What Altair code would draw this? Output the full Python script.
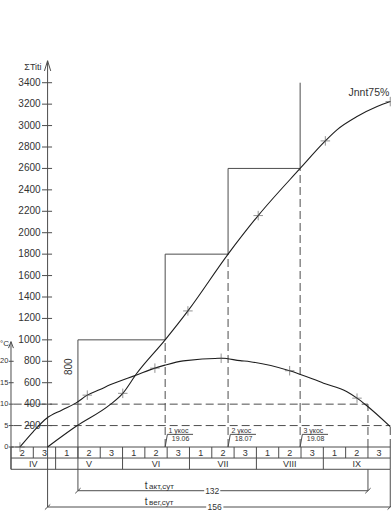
import altair as alt
import pandas as pd

# ---------------- values ----------------
DECADES = ["2", "3"] + ["1", "2", "3"] * 5
MONTHS = ["IV", "V", "VI", "VII", "VIII", "IX"]
MONTH_START = [0, 2, 5, 8, 11, 14]
MONTH_END = [2, 5, 8, 11, 14, 17]

SUM_TICKS = list(range(200, 3401, 200))
TEMP_TICKS = [0, 5, 10, 15, 20]
TEMP_TO_SUM = 40  # on the drawing 20 °C sits at the 800 level

# cumulative sum of temperatures (x in decades from 11 April)
SUM_X = [1.64, 2.92, 4.44, 5.01, 5.64, 6.91, 7.93, 9.73, 11.08, 12.96, 14.09, 14.61, 15.51, 16.41, 17.0]
SUM_Y = [0, 193, 395, 501, 688, 1000, 1270, 1800, 2160, 2600, 2857, 2960, 3084, 3177, 3224]
SUM_MARK_X = [5.01, 7.93, 11.08, 14.09, 17.0]
SUM_MARK_Y = [501, 1270, 2160, 2857, 3224]

# mean air temperature, °C
TEMP_X = [0.40, 1.00, 1.60, 2.27, 2.92, 3.42, 3.99, 4.44, 5.63, 6.45, 6.90, 7.72, 9.42, 10.27, 10.72,
          12.49, 14.01, 15.06, 15.51, 15.91, 17.0]
TEMP_C = [0, 3.6, 6.7, 8.6, 10.3, 12.1, 13.4, 14.5, 16.8, 18.4, 19.1, 20.1, 20.7, 20.15, 19.9,
          17.8, 14.9, 12.9, 11.4, 9.8, 4.75]
TEMP_MARK_X = [0.40, 3.42, 6.45, 9.42, 12.49, 15.51]
TEMP_MARK_C = [0, 12.1, 18.4, 20.7, 17.8, 11.4]

HARVEST_X = [6.91, 9.73, 12.96]
HARVEST_LEVEL = [1000, 1800, 2600]
STEP_TOP = 3400
HARVEST_NAME = ["1 укос", "2 укос", "3 укос"]
HARVEST_DATE = ["19.06", "18.07", "19.08"]
STEP_LABEL = "800"
CURVE_LABEL = "Jnnt75%"

ACT_START, ACT_END = 3.0, 16.0
VEG_START, VEG_END = 1.64, 17.0
T_ACT, T_VEG = 132, 156

# ---------------- layout (drawing units) ----------------
ROW_TOP, ROW_MID, ROW_BOT = 0, -103, -208
ACT_DIM, VEG_DIM = -408, -560
AXIS_TOP = 3605
C_AXIS_TOP = 983

FONT = "Liberation Sans"
TXT = "#333333"
LINE = "#4d4d4d"
CURVE = "#1e1e1e"

X = alt.Scale(domain=[-0.493, 17.033], nice=False, zero=False)
Y = alt.Scale(domain=[-616, 4172], nice=False, zero=False)


def segs(rows, dash=None, color=LINE, width=1.0):
    df = pd.DataFrame(rows, columns=["x", "y", "x2", "y2"])
    kw = dict(color=color, strokeWidth=width)
    if dash:
        kw["strokeDash"] = dash
    return alt.Chart(df).mark_rule(**kw).encode(
        x=alt.X("x:Q", scale=X, axis=None),
        y=alt.Y("y:Q", scale=Y, axis=None),
        x2="x2:Q", y2="y2:Q")


def texts(rows, **kw):
    df = pd.DataFrame(rows, columns=["x", "y", "text"])
    base = dict(font=FONT, color=TXT)
    base.update(kw)
    return alt.Chart(df).mark_text(**base).encode(
        x=alt.X("x:Q", scale=X, axis=None),
        y=alt.Y("y:Q", scale=Y, axis=None),
        text="text:N")


layers = []

# ---- solid construction lines ----
solid = []
solid.append((ACT_START, ACT_DIM, ACT_START, HARVEST_LEVEL[0]))
prev_x = ACT_START
for i, (hx, lv) in enumerate(zip(HARVEST_X, HARVEST_LEVEL)):
    solid.append((prev_x, lv, hx, lv))
    top = HARVEST_LEVEL[i + 1] if i + 1 < len(HARVEST_LEVEL) else STEP_TOP
    solid.append((hx, lv, hx, top))
    prev_x = hx
solid.append((VEG_START, VEG_DIM, VEG_START, AXIS_TOP))
solid.append((0, ROW_BOT, 0, C_AXIS_TOP))
solid.append((VEG_START - 0.14, AXIS_TOP - 95, VEG_START, AXIS_TOP))
solid.append((VEG_START + 0.14, AXIS_TOP - 95, VEG_START, AXIS_TOP))
solid.append((-0.11, C_AXIS_TOP - 60, 0, C_AXIS_TOP))
solid.append((0.11, C_AXIS_TOP - 60, 0, C_AXIS_TOP))
for t in SUM_TICKS:
    solid.append((VEG_START - 0.25, t, VEG_START + 0.2, t))
for t in TEMP_TICKS:
    solid.append((-0.1, t * TEMP_TO_SUM, 0.12, t * TEMP_TO_SUM))
for yy in (ROW_TOP, ROW_MID, ROW_BOT):
    solid.append((0, yy, 17, yy))
for k in range(18):
    solid.append((k, ROW_TOP, k, ROW_MID))
for b in sorted(set(MONTH_START + MONTH_END)):
    solid.append((b, ROW_MID, b, ROW_BOT))
solid.append((ACT_END, ROW_BOT, ACT_END, ACT_DIM))
solid.append((VEG_END, ROW_BOT, VEG_END, VEG_DIM))
solid.append((ACT_START, ACT_DIM, 8.66, ACT_DIM))
solid.append((9.38, ACT_DIM, ACT_END, ACT_DIM))
solid.append((VEG_START, VEG_DIM, 8.75, VEG_DIM))
solid.append((9.52, VEG_DIM, VEG_END, VEG_DIM))
for (dx, dy) in [(ACT_START, ACT_DIM), (ACT_END, ACT_DIM), (VEG_START, VEG_DIM), (VEG_END, VEG_DIM)]:
    solid.append((dx - 0.12, dy - 24, dx + 0.12, dy + 24))
for hx in HARVEST_X:
    solid.append((hx, 0, hx + 0.1, 118))
    solid.append((hx + 0.1, 118, hx + 1.25, 118))
layers.append(segs(solid))

# ---- dashed lines ----
dashed = [(0.12, 400, ACT_END, 400), (0.12, 200, VEG_END, 200),
          (ACT_END, 0, ACT_END, 400), (VEG_END, 0, VEG_END, 200)]
for hx, lv in zip(HARVEST_X, HARVEST_LEVEL):
    dashed.append((hx, 0, hx, lv))
layers.append(segs(dashed, dash=[8, 4]))

# ---- curves ----
sum_df = pd.DataFrame({"x": SUM_X, "y": SUM_Y})
layers.append(alt.Chart(sum_df).mark_line(color=CURVE, strokeWidth=1.1, interpolate="monotone").encode(
    x=alt.X("x:Q", scale=X, axis=None), y=alt.Y("y:Q", scale=Y, axis=None)))
temp_df = pd.DataFrame({"x": TEMP_X, "t": TEMP_C})
layers.append(alt.Chart(temp_df).transform_calculate(y=f"datum.t * {TEMP_TO_SUM}").mark_line(
    color=CURVE, strokeWidth=1.1, interpolate="monotone").encode(
    x=alt.X("x:Q", scale=X, axis=None), y=alt.Y("y:Q", scale=Y, axis=None)))

cross = "M-1,0L1,0M0,-1L0,1"
sm_df = pd.DataFrame({"x": SUM_MARK_X, "y": SUM_MARK_Y})
layers.append(alt.Chart(sm_df).mark_point(shape=cross, size=90, filled=False, color="#555", strokeWidth=0.9).encode(
    x=alt.X("x:Q", scale=X, axis=None), y=alt.Y("y:Q", scale=Y, axis=None)))
tm_df = pd.DataFrame({"x": TEMP_MARK_X, "t": TEMP_MARK_C})
layers.append(alt.Chart(tm_df).transform_calculate(y=f"datum.t * {TEMP_TO_SUM}").mark_point(
    shape=cross, size=90, filled=False, color="#555", strokeWidth=0.9).encode(
    x=alt.X("x:Q", scale=X, axis=None), y=alt.Y("y:Q", scale=Y, axis=None)))

# ---- texts ----
layers.append(texts([(VEG_START, t, str(t)) for t in SUM_TICKS], fontSize=10, align="right", baseline="middle", dx=-7))
layers.append(texts([(0, t * TEMP_TO_SUM, str(t)) for t in TEMP_TICKS], fontSize=7.5, align="right", baseline="middle", dx=-2.6))
layers.append(texts([(0, C_AXIS_TOP - 25, "°C")], fontSize=8, align="right", baseline="middle", dx=-2))
layers.append(texts([(VEG_START, 3519, "ΣTiti")], fontSize=9, align="right", baseline="alphabetic", dx=-6))
layers.append(texts([(k + 0.5, (ROW_TOP + ROW_MID) / 2, DECADES[k]) for k in range(17)],
                    fontSize=9, align="center", baseline="middle"))
layers.append(texts([((s + e) / 2, (ROW_MID + ROW_BOT) / 2, m) for s, e, m in zip(MONTH_START, MONTH_END, MONTHS)],
                    fontSize=9, align="center", baseline="middle"))
layers.append(texts([(2.61, 749, STEP_LABEL)], fontSize=10, align="center", baseline="middle", angle=270))
layers.append(texts([(16.96, 3276, CURVE_LABEL)], fontSize=10.5, align="right", baseline="alphabetic"))
layers.append(texts([(hx + 0.15, 124, n) for hx, n in zip(HARVEST_X, HARVEST_NAME)],
                    fontSize=7, align="left", baseline="bottom"))
layers.append(texts([(hx + 0.3, 110, d) for hx, d in zip(HARVEST_X, HARVEST_DATE)],
                    fontSize=7, align="left", baseline="top"))
layers.append(texts([(6.0, -392, "t"), (6.0, -537, "t")], fontSize=10, align="left", baseline="alphabetic"))
layers.append(texts([(6.19, -392, "акт,сут"), (6.19, -537, "вег,сут")], fontSize=8, align="left", baseline="alphabetic"))
layers.append(texts([(9.02, ACT_DIM, str(T_ACT)), (9.13, VEG_DIM, str(T_VEG))], fontSize=8.5, align="center", baseline="middle"))

chart = alt.layer(*layers).properties(
    width=391, height=513, padding=0,
    autosize=alt.AutoSizeParams(type="none"), background="white"
).configure_view(stroke=None)

chart.save("out.html", embed_options={"renderer": "svg", "actions": False})
